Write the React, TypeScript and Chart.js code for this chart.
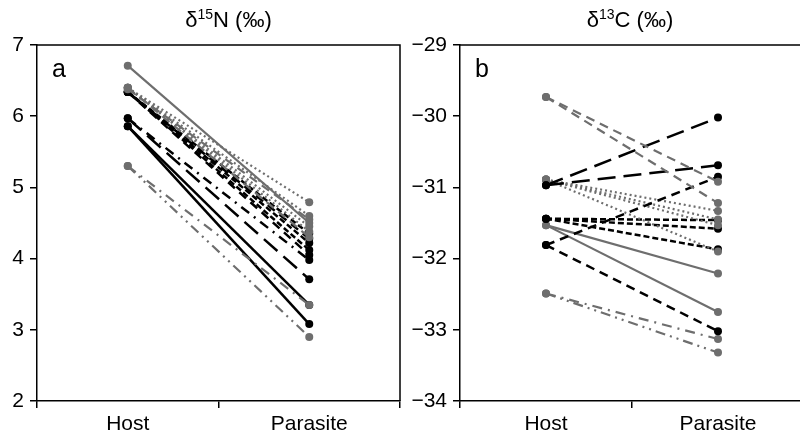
import React, { useEffect, useRef } from "react";
import { Chart, registerables } from "chart.js";

Chart.register(...registerables);

const CATEGORIES = ["Host", "Parasite"];

// Panel a: δ15N (‰)
const N_HOST = [6.71, 6.40, 6.40, 6.40, 6.40, 6.40, 6.38, 5.30, 5.30, 6.34, 6.34, 6.34, 6.34, 6.34, 5.97, 5.97, 5.86, 5.86];
const N_PARASITE = [4.50, 4.79, 4.60, 4.45, 4.38, 4.30, 4.55, 3.35, 2.90, 4.35, 4.22, 4.12, 4.28, 4.05, 3.71, 3.98, 3.35, 3.08];
const N_STYLE = ["gsolid", "gdot", "gdot", "gdot", "gdot", "gdash", "gdash", "gdashdot", "gdashdotdot", "kshort", "kshort", "kshort", "kdash", "kdash", "klong", "kdashdot", "ksolid", "ksolid"];
const N_TICKS = [2, 3, 4, 5, 6, 7];

// Panel b: δ13C (‰)
const C_HOST = [-29.73, -29.73, -30.97, -30.97, -31.81, -30.89, -30.89, -30.89, -30.89, -31.44, -31.44, -31.44, -31.53, -31.53, -31.81, -32.49, -32.49];
const C_PARASITE = [-30.92, -31.22, -30.02, -30.69, -30.85, -31.33, -31.45, -31.53, -31.90, -31.46, -31.58, -31.87, -32.21, -32.75, -33.02, -33.13, -33.32];
const C_STYLE = ["gdash", "gdash", "klong", "klong", "kdash", "gdot", "gdot", "gdot", "gdot", "kshort", "kshort", "kshort", "gsolid", "gsolid", "kdash", "gdashdot", "gdashdotdot"];
const C_TICKS = [-34, -33, -32, -31, -30, -29];

const GRAY = "#6e6e6e";
const BLACK = "#000000";
const FONT = "'Liberation Sans', Arial, Helvetica, sans-serif";

function styleOf(s: string) {
  const color = s[0] === "g" ? GRAY : BLACK;
  const kind = s.slice(1);
  let dash: number[] = [];
  let width = s[0] === "g" ? 2.2 : 2.5;
  if (kind === "dot") dash = [2, 3];
  else if (kind === "dash") dash = [9, 6];
  else if (kind === "short") dash = [6, 3];
  else if (kind === "long") dash = [18, 8];
  else if (kind === "dashdot") dash = [10, 6, 2, 6];
  else if (kind === "dashdotdot") dash = [10, 5, 2, 5, 2, 5];
  return { color, dash, width };
}

function buildDatasets(host: number[], para: number[], styles: string[]) {
  return host.map((h, i) => {
    const st = styleOf(styles[i]);
    return {
      data: [h, para[i]],
      borderColor: st.color,
      backgroundColor: st.color,
      pointBackgroundColor: st.color,
      pointBorderColor: st.color,
      borderWidth: st.width,
      borderDash: st.dash,
      pointRadius: 4,
      pointBorderWidth: 0,
      tension: 0,
      fill: false,
    };
  });
}

function makeDecor(titleMain: string, sup: string, titleRest: string, letter: string) {
  return {
    id: "decor" + letter,
    afterDraw(chart: any) {
      const { ctx, chartArea } = chart;
      ctx.save();
      ctx.strokeStyle = "#000";
      ctx.lineWidth = 1.5;
      ctx.beginPath();
      ctx.moveTo(chartArea.left, chartArea.top);
      ctx.lineTo(chartArea.right, chartArea.top);
      ctx.lineTo(chartArea.right, chartArea.bottom);
      ctx.stroke();
      ctx.fillStyle = "#000";
      ctx.textBaseline = "alphabetic";
      ctx.textAlign = "left";
      const big = "22px " + FONT;
      const small = "14px " + FONT;
      ctx.font = big;
      const w1 = ctx.measureText(titleMain).width;
      const w3 = ctx.measureText(titleRest).width;
      ctx.font = small;
      const w2 = ctx.measureText(sup).width;
      const total = w1 + w2 + w3;
      const cx = (chartArea.left + chartArea.right) / 2 + (letter === "a" ? 10 : -2);
      let x = cx - total / 2;
      const y = 27;
      ctx.font = big;
      ctx.fillText(titleMain, x, y);
      x += w1;
      ctx.font = small;
      ctx.fillText(sup, x, y - 8);
      x += w2;
      ctx.font = big;
      ctx.fillText(titleRest, x, y);
      ctx.font = "25px " + FONT;
      ctx.fillText(letter, chartArea.left + 15, 77);
      ctx.restore();
    },
  };
}

function makeConfig(host: number[], para: number[], styles: string[], ticks: number[], padRight: number, yWidth: number, decor: any) {
  return {
    type: "line" as const,
    data: { labels: CATEGORIES, datasets: buildDatasets(host, para, styles) },
    plugins: [decor],
    options: {
      animation: false as const,
      responsive: false,
      maintainAspectRatio: false,
      layout: { padding: { top: 45, right: padRight, left: 0, bottom: 0 } },
      plugins: { legend: { display: false }, tooltip: { enabled: false }, title: { display: false } },
      scales: {
        x: {
          type: "category" as const,
          offset: true,
          grid: { offset: true, drawOnChartArea: false, drawTicks: true, tickLength: 7, color: "#000", lineWidth: 1.5 },
          border: { display: true, color: "#000", width: 1.5 },
          ticks: { color: "#000", font: { size: 21, family: FONT }, padding: 4, maxRotation: 0 },
          afterFit: (s: any) => { s.height = 34; },
        },
        y: {
          min: ticks[0],
          max: ticks[ticks.length - 1],
          afterBuildTicks: (s: any) => { s.ticks = ticks.map((v) => ({ value: v })); },
          grid: { drawOnChartArea: false, drawTicks: true, tickLength: 7, color: "#000", lineWidth: 1.5 },
          border: { display: true, color: "#000", width: 1.5 },
          ticks: {
            color: "#000",
            font: { size: 21, family: FONT },
            padding: 6,
            callback: (v: any) => String(v).replace("-", "\u2212"),
          },
          afterFit: (s: any) => { s.width = yWidth; },
        },
      },
    },
  };
}

export default function App() {
  const refA = useRef<HTMLCanvasElement>(null);
  const refB = useRef<HTMLCanvasElement>(null);
  useEffect(() => {
    const a = new Chart(refA.current as HTMLCanvasElement, makeConfig(N_HOST, N_PARASITE, N_STYLE, N_TICKS, 10, 37, makeDecor("\u03b4", "15", "N (\u2030)", "a")) as any);
    const b = new Chart(refB.current as HTMLCanvasElement, makeConfig(C_HOST, C_PARASITE, C_STYLE, C_TICKS, 6, 50, makeDecor("\u03b4", "13", "C (\u2030)", "b")) as any);
    return () => { a.destroy(); b.destroy(); };
  }, []);
  return (
    <div style={{ position: "fixed", left: 0, top: 0, width: 800, height: 435, overflow: "hidden", background: "#fff" }}>
      <canvas ref={refA} width={410} height={435} style={{ position: "absolute", left: 0, top: 0, width: 410, height: 435 }} />
      <canvas ref={refB} width={400} height={435} style={{ position: "absolute", left: 410, top: 0, width: 400, height: 435 }} />
    </div>
  );
}
